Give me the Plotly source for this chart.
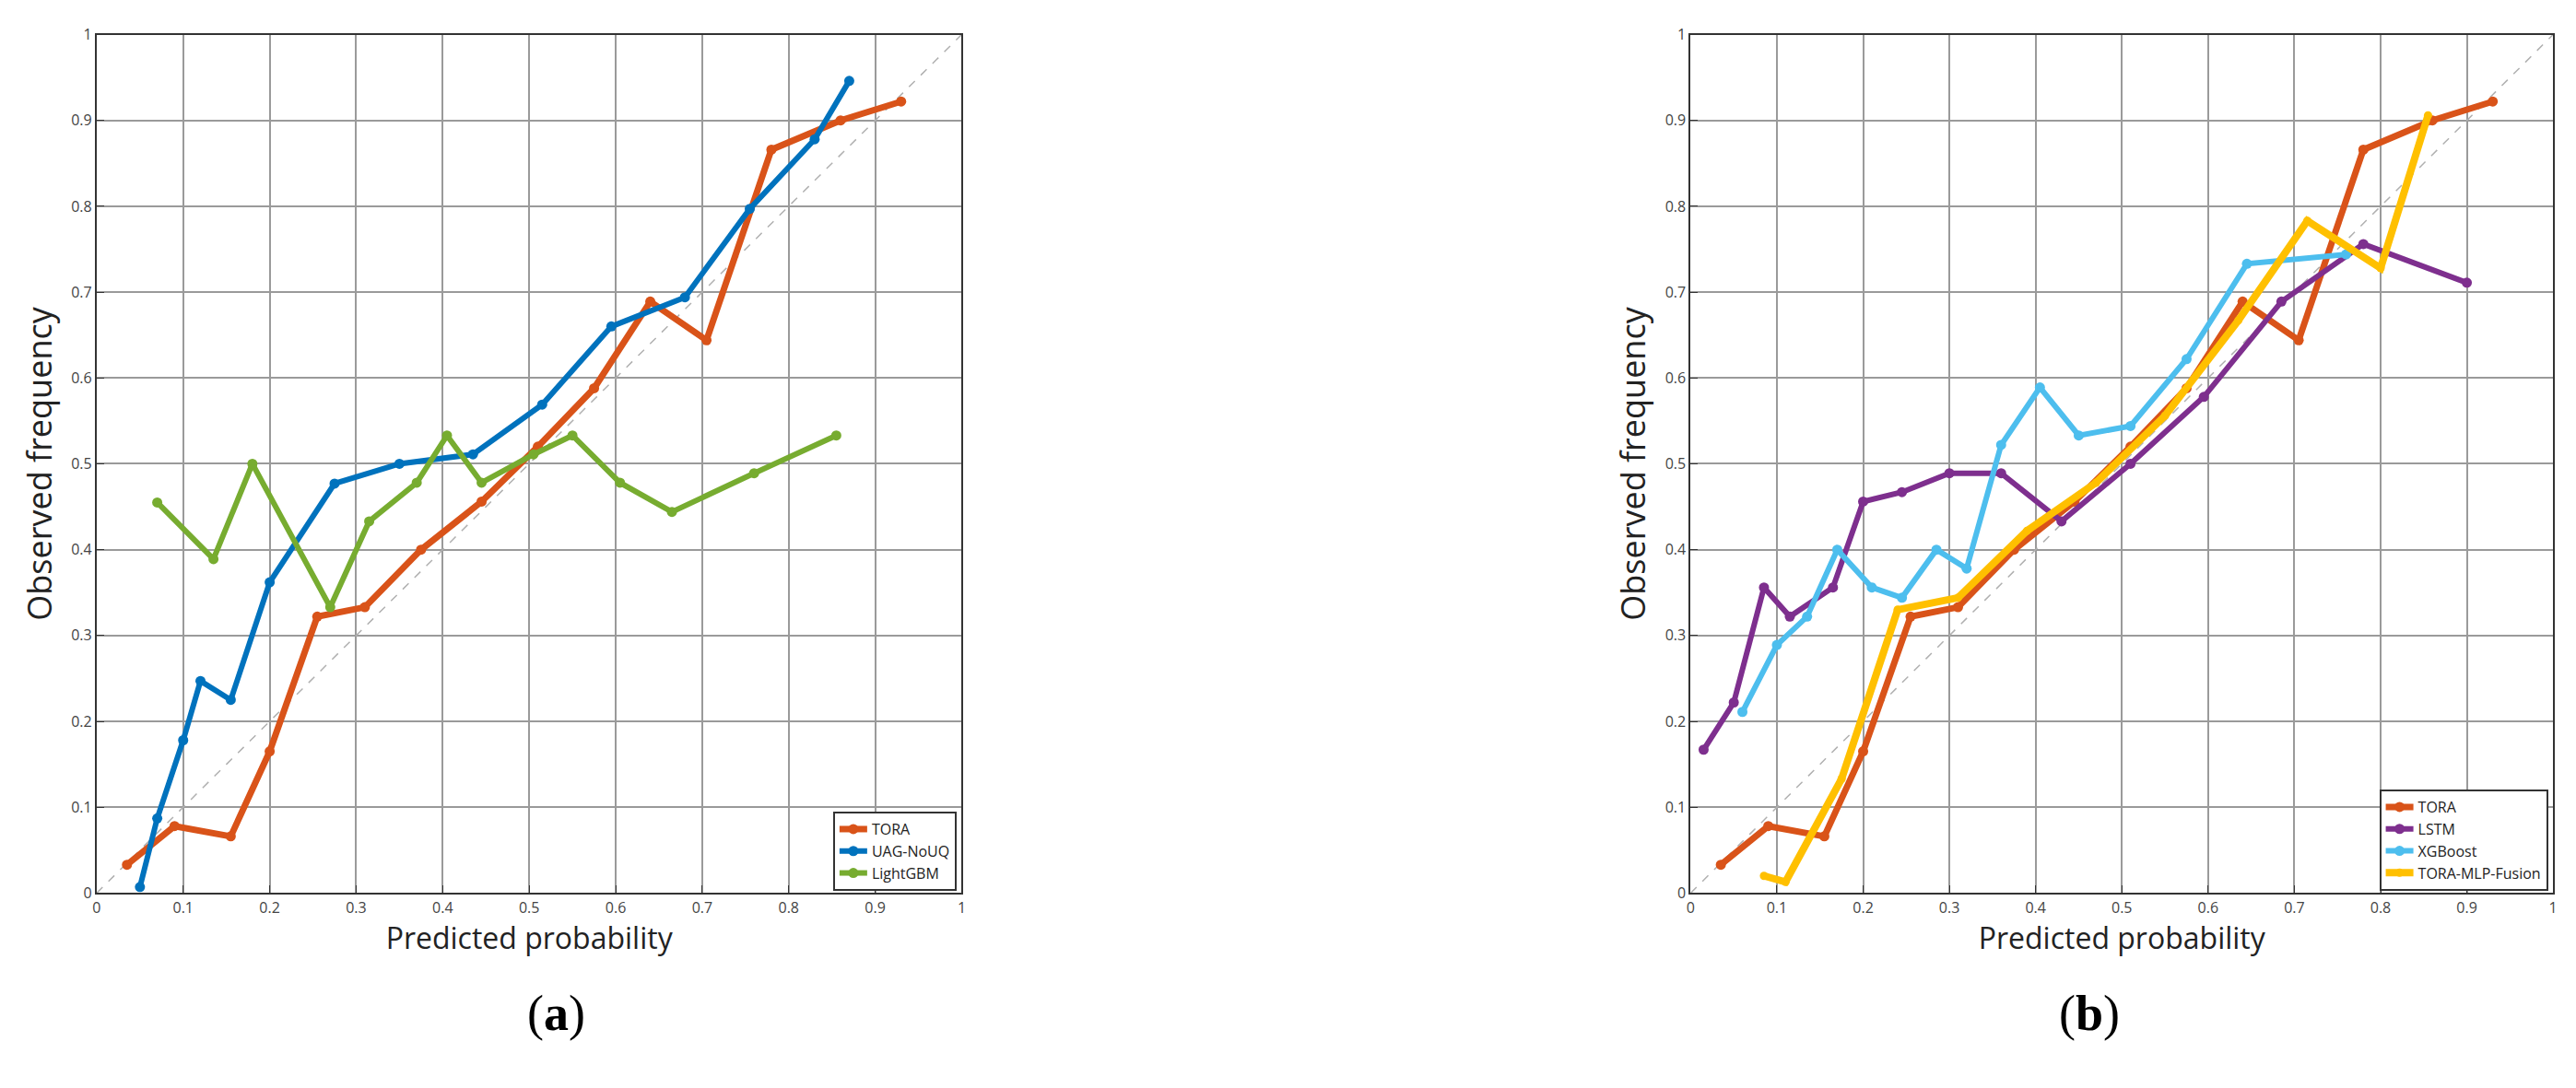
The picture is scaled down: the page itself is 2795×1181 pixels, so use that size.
import plotly.graph_objects as go

# panel (a)
tora_x = [0.035, 0.09, 0.155, 0.2, 0.255, 0.31, 0.375, 0.445, 0.51, 0.575, 0.64, 0.705, 0.78, 0.86, 0.93]
tora_y = [0.033, 0.078, 0.066, 0.165, 0.322, 0.333, 0.4, 0.456, 0.52, 0.588, 0.689, 0.644, 0.866, 0.9, 0.922]
uag_x = [0.05, 0.07, 0.1, 0.12, 0.155, 0.2, 0.275, 0.35, 0.435, 0.515, 0.595, 0.68, 0.755, 0.83, 0.87]
uag_y = [0.007, 0.087, 0.178, 0.247, 0.225, 0.362, 0.477, 0.5, 0.511, 0.569, 0.66, 0.694, 0.797, 0.878, 0.946]
lgb_x = [0.07, 0.135, 0.18, 0.27, 0.315, 0.37, 0.405, 0.445, 0.505, 0.55, 0.605, 0.665, 0.76, 0.855]
lgb_y = [0.455, 0.389, 0.5, 0.333, 0.433, 0.478, 0.533, 0.478, 0.511, 0.533, 0.478, 0.444, 0.489, 0.533]

# panel (b)
lstm_x = [0.015, 0.05, 0.085, 0.115, 0.165, 0.2, 0.245, 0.3, 0.36, 0.43, 0.51, 0.595, 0.685, 0.78, 0.9]
lstm_y = [0.167, 0.222, 0.356, 0.322, 0.356, 0.456, 0.467, 0.489, 0.489, 0.433, 0.5, 0.578, 0.689, 0.756, 0.711]
xgb_x = [0.06, 0.1, 0.135, 0.17, 0.21, 0.245, 0.285, 0.32, 0.36, 0.405, 0.45, 0.51, 0.575, 0.645, 0.76]
xgb_y = [0.211, 0.289, 0.322, 0.4, 0.356, 0.344, 0.4, 0.378, 0.522, 0.589, 0.533, 0.544, 0.622, 0.733, 0.744]
fus_x = [0.085, 0.11, 0.175, 0.24, 0.31, 0.39, 0.47, 0.55, 0.635, 0.715, 0.8, 0.855]
fus_y = [0.02, 0.013, 0.133, 0.33, 0.344, 0.422, 0.478, 0.556, 0.667, 0.783, 0.728, 0.906]

ticks = [i / 10 for i in range(11)]
tick_text = ["0"] + [f"{t:g}" for t in ticks[1:-1]] + ["1"]

fig = go.Figure()


def line(x, y, name, color, xa, ya, leg, width=6, msize=11):
    fig.add_trace(go.Scatter(x=x, y=y, name=name, mode="lines+markers",
                             line=dict(color=color, width=width),
                             marker=dict(color=color, size=msize),
                             xaxis=xa, yaxis=ya, legend=leg))


for xa, ya in [("x", "y"), ("x2", "y2")]:
    fig.add_trace(go.Scatter(x=[0, 1], y=[0, 1], mode="lines", showlegend=False,
                             line=dict(color="#b0b0b0", width=1.5, dash="dash"),
                             xaxis=xa, yaxis=ya))

line(tora_x, tora_y, "TORA", "#D95319", "x", "y", "legend", 7)
line(uag_x, uag_y, "UAG-NoUQ", "#0072BD", "x", "y", "legend")
line(lgb_x, lgb_y, "LightGBM", "#77AC30", "x", "y", "legend")

line(tora_x, tora_y, "TORA", "#D95319", "x2", "y2", "legend2", 7)
line(lstm_x, lstm_y, "LSTM", "#7E2F8E", "x2", "y2", "legend2")
line(xgb_x, xgb_y, "XGBoost", "#4DBEEE", "x2", "y2", "legend2")
line(fus_x, fus_y, "TORA-MLP-Fusion", "#FFC000", "x2", "y2", "legend2", 8, 9)

axis = dict(range=[0, 1], tickvals=ticks, ticktext=tick_text, showgrid=True,
            gridcolor="#9a9a9a", gridwidth=1.5, showline=True, linecolor="#333",
            linewidth=2, mirror=True, ticks="inside", ticklen=8, tickcolor="#333",
            tickfont=dict(size=16, color="#444"), zeroline=False)

legend_style = dict(bgcolor="white", bordercolor="#333", borderwidth=2,
                    font=dict(size=16, family="Open Sans"), xanchor="right",
                    yanchor="bottom", tracegroupgap=0)

fig.update_layout(
    width=2795, height=1181, paper_bgcolor="white", plot_bgcolor="white",
    margin=dict(l=0, r=0, t=0, b=0),
    font=dict(family="Open Sans", color="#222"),
    xaxis=dict(axis, domain=[0.033, 0.37], anchor="y",
               title=dict(text="Predicted probability", font=dict(size=32), standoff=6)),
    yaxis=dict(axis, domain=[0.18, 0.984], anchor="x",
               title=dict(text="Observed frequency", font=dict(size=36), standoff=10)),
    xaxis2=dict(axis, domain=[0.654, 0.99], anchor="y2",
                title=dict(text="Predicted probability", font=dict(size=32), standoff=6)),
    yaxis2=dict(axis, domain=[0.18, 0.984], anchor="x2",
                title=dict(text="Observed frequency", font=dict(size=36), standoff=10)),
    legend=dict(legend_style, x=0.368, y=0.182),
    legend2=dict(legend_style, x=0.988, y=0.182),
    annotations=[
        dict(text="(<b>a</b>)", x=0.2, y=0.04, xref="paper", yref="paper",
             showarrow=False, font=dict(size=54, family="Liberation Serif", color="black")),
        dict(text="(<b>b</b>)", x=0.822, y=0.04, xref="paper", yref="paper",
             showarrow=False, font=dict(size=54, family="Liberation Serif", color="black")),
    ],
)

fig.write_html("out.html")
